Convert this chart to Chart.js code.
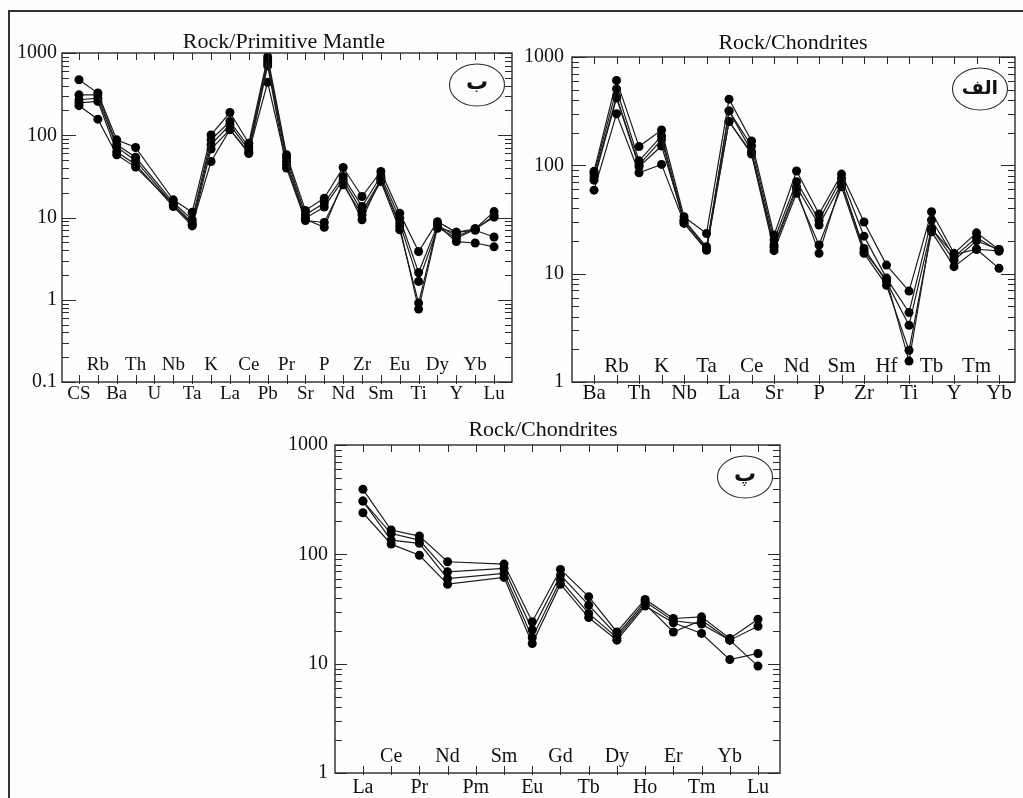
<!DOCTYPE html>
<html>
<head>
<meta charset="utf-8">
<script src="https://cdn.jsdelivr.net/npm/chart.js@4/dist/chart.umd.min.js"></script>
<style>
  html, body { margin: 0; padding: 0; background: #ffffff; }
  #page { position: relative; width: 1023px; height: 798px; overflow: hidden; background: #fefefe; }
  #frame { position: absolute; left: 8px; top: 10px; right: -10px; bottom: -10px; border-left: 2px solid #333; border-top: 2px solid #333; }
  canvas { position: absolute; }
</style>
</head>
<body>
<div id="page">
  <div id="frame"></div>
  <canvas id="c1" width="520" height="410" style="left:0px;top:0px"></canvas>
  <canvas id="c2" width="503" height="410" style="left:520px;top:0px"></canvas>
  <canvas id="c3" width="520" height="398" style="left:280px;top:400px"></canvas>
</div>
<script>
// ---------- Panel ب : Rock/Primitive Mantle ----------
const pmCats = ['CS','Rb','Ba','Th','U','Nb','Ta','K','La','Ce','Pb','Pr','Sr','P','Nd','Zr','Sm','Eu','Ti','Dy','Y','Yb','Lu'];
const pm1 = [473, 326, 88, 71, null, 16.4, 11.6, 101, 189, 80, 900, 58, 12.2, 17.2, 40.5, 18, 36.3, 11.3, 3.86, 8.9, 6.6, 7.3, 11.8];
const pm2 = [310, 310, 77, 54, null, 15.2, 9.4, 88, 147, 72, 820, 53, 10.8, 15, 31.5, 13.6, 32, 9.8, 2.14, 8.1, 5.9, 7.3, 10.1];
const pm3 = [270, 282, 72, 49, null, 14.3, 8.7, 77, 134, 66, 760, 48, 9.8, 13.4, 28.8, 11.8, 28.8, 8.6, 1.67, 7.4, 6.6, 7.0, 5.8];
const pm4 = [248, 258, 63, 44, null, 13.6, 7.9, 68, 117, 60, 700, 40, 9.2, 8.7, 25, 10.8, 27.4, 7.1, 0.91, 8.1, 5.1, 4.9, 4.4];
const pm5 = [229, 157, 58, 41, null, 14.5, 8.2, 48, 117, 62, 440, 44, 9.5, 7.6, 27, 9.4, 30, 7.8, 0.77, 7.6, 5.6, 7.2, 10.5];
const pmYTicks = [0.1, 1, 10, 100, 1000];
const pmYLabels = ['0.1', '1', '10', '100', '1000'];

// ---------- Panel الف : Rock/Chondrites (spider) ----------
const chCats = ['Ba','Rb','Th','K','Nb','Ta','La','Ce','Sr','Nd','P','Sm','Zr','Hf','Ti','Tb','Y','Tm','Yb'];
const ch1 = [88, 608, 149, 212, 33.5, 23.5, 408, 168, 22.7, 88.7, 35.5, 83, 30, 12, 6.9, 37.3, 15.4, 23.8, 16.7];
const ch2 = [84, 506, 110, 187, 31.2, 17.7, 318, 151, 20.4, 70.7, 31.2, 76, 22.2, 9.1, 4.37, 31.3, 14.3, 21.6, 16.2];
const ch3 = [78, 432, 101, 172, 29.1, 16.5, 318, 134, 18.4, 63.6, 28.1, 68, 17.1, 8.4, 3.34, 26.2, 13.3, 20.1, 16.7];
const ch4 = [73, 418, 97, 151, 31, 17, 254, 127, 16.3, 55.2, 18.4, 63.5, 15.4, 7.8, 1.96, 24.4, 11.6, 16.8, 16.2];
const ch5 = [59, 299, 85.5, 102, 29.5, 16.5, 254, 130, 17.5, 60, 15.4, 70, 16, 8.8, 1.56, 26, 15, 16.8, 11.2];
const chYTicks = [1, 10, 100, 1000];
const chYLabels = ['1', '10', '100', '1000'];

// ---------- Panel پ : Rock/Chondrites (REE) ----------
const reeCats = ['La','Ce','Pr','Nd','Pm','Sm','Eu','Gd','Tb','Dy','Ho','Er','Tm','Yb','Lu'];
const ree1 = [393, 167, 147, 85.5, null, 81.4, 24.2, 72.8, 41, 19.5, 38.7, 25.9, 26.8, 17, 25.5];
const ree2 = [307, 155, 135, 69.2, null, 74.3, 20.3, 64.6, 34.3, 18.2, 36.8, 24.7, 23, 16.4, 22];
const ree3 = [307, 135, 126, 60, null, 66.9, 17.3, 58.1, 28.8, 17.3, 35, 19.5, 25, 16.4, 9.5];
const ree4 = [240, 124, 98, 53.3, null, 61.5, 15.3, 53.3, 26.4, 16.4, 33.6, 23.7, 18.9, 10.9, 12.4];
const reeYTicks = [1, 10, 100, 1000];
const reeYLabels = ['1', '10', '100', '1000'];

const SERIF = '"Liberation Serif", "Times New Roman", serif';

const decorPlugin = {
  id: 'decor',
  afterDraw(chart, args, o) {
    const ctx = chart.ctx, a = chart.chartArea;
    const xs = chart.scales.x, ys = chart.scales.y;
    ctx.save();
    ctx.strokeStyle = '#2a2a2a';
    const seg = (x1, y1, x2, y2) => { ctx.beginPath(); ctx.moveTo(x1, y1); ctx.lineTo(x2, y2); ctx.stroke(); };
    ctx.lineWidth = 1;
    o.cats.forEach((c, i) => {
      const px = Math.round(xs.getPixelForValue(i)) + 0.5;
      seg(px, a.bottom + 2, px, a.bottom - 7);
      seg(px, a.top, px, a.top + 7);
    });
    const lo = Math.round(Math.log10(ys.min)), hi = Math.round(Math.log10(ys.max));
    for (let d = lo; d <= hi; d++) {
      for (let m = 1; m < 10; m++) {
        if (d === hi && m > 1) break;
        const v = m * Math.pow(10, d);
        const py = Math.round(ys.getPixelForValue(v)) + 0.5;
        const L = m === 1 ? o.majorLen : 7;
        seg(a.left, py, a.left + L, py);
        seg(a.right, py, a.right - L, py);
      }
    }
    ctx.lineWidth = 1.4;
    ctx.strokeRect(a.left, a.top, a.right - a.left, a.bottom - a.top);
    ctx.fillStyle = '#111';
    ctx.font = o.labelFont;
    ctx.textAlign = 'center';
    ctx.textBaseline = 'alphabetic';
    o.cats.forEach((c, i) => {
      const px = xs.getPixelForValue(i);
      const py = i % 2 === 0 ? a.bottom + o.below : a.bottom - o.inside;
      ctx.fillText(c, px, py);
    });
    ctx.font = '22px ' + SERIF;
    ctx.fillText(o.title, o.titleX, o.titleY);
    const bx = a.right - 35, by = a.top + 32;
    ctx.lineWidth = 1.1;
    ctx.beginPath();
    ctx.ellipse(bx, by, 27.5, 21, 0, 0, Math.PI * 2);
    ctx.stroke();
    ctx.font = o.badgeFont;
    ctx.textBaseline = 'middle';
    ctx.fillText(o.badge, bx, by + o.badgeDy);
    ctx.restore();
  }
};

function makeChart(id, cats, series, yTicks, yLabels, cfg) {
  const datasets = series.map(s => ({
    data: s.map((v, i) => ({ x: i, y: v })),
    borderColor: '#1c1c1c',
    borderWidth: 1.2,
    pointRadius: 4.5,
    pointBackgroundColor: '#000',
    pointBorderColor: '#000',
    pointBorderWidth: 0,
    spanGaps: true,
    tension: 0,
    fill: false
  }));
  return new Chart(document.getElementById(id), {
    type: 'line',
    data: { datasets },
    options: {
      responsive: false,
      animation: false,
      devicePixelRatio: 1,
      events: [],
      layout: { padding: { left: 0, top: cfg.padTop, right: cfg.padRight, bottom: 0 } },
      scales: {
        x: {
          type: 'linear',
          min: cfg.xMin, max: cfg.xMax,
          grid: { display: false, drawTicks: false },
          border: { display: false },
          ticks: { display: false },
          afterFit: s => { s.height = cfg.xH; }
        },
        y: {
          type: 'logarithmic',
          min: yTicks[0], max: yTicks[yTicks.length - 1],
          grid: { display: false, drawTicks: false },
          border: { display: false },
          afterBuildTicks: s => { s.ticks = yTicks.map(v => ({ value: v })); },
          ticks: {
            autoSkip: false,
            padding: cfg.yPad,
            color: '#111',
            font: { family: SERIF, size: 20 },
            callback: (v, i) => yLabels[i]
          },
          afterFit: s => { s.width = cfg.yW; }
        }
      },
      plugins: {
        legend: { display: false },
        tooltip: { enabled: false },
        decor: {
          cats, title: cfg.title, titleX: cfg.titleX, titleY: cfg.titleY,
          labelFont: cfg.labelSize + 'px ' + SERIF,
          inside: cfg.inside, below: cfg.below, majorLen: cfg.majorLen,
          badge: cfg.badge, badgeDy: cfg.badgeDy, badgeFont: cfg.badgeFont
        }
      }
    },
    plugins: [decorPlugin]
  });
}

makeChart('c1', pmCats, [pm1, pm2, pm3, pm4, pm5], pmYTicks, pmYLabels, {
  padTop: 53, padRight: 8, xH: 28, yW: 62, yPad: 5,
  xMin: -0.9, xMax: 22.95,
  title: 'Rock/Primitive Mantle', titleX: 284, titleY: 48,
  labelSize: 19, inside: 12, below: 17, majorLen: 14,
  badge: 'ب', badgeDy: -2, badgeFont: 'bold 22px "DejaVu Sans", sans-serif'
});
makeChart('c2', chCats, [ch1, ch2, ch3, ch4, ch5], chYTicks, chYLabels, {
  padTop: 57, padRight: 8, xH: 28, yW: 52, yPad: 8,
  xMin: -0.98, xMax: 18.71,
  title: 'Rock/Chondrites', titleX: 273, titleY: 49,
  labelSize: 21, inside: 10, below: 17, majorLen: 14,
  badge: 'الف', badgeDy: 0, badgeFont: 'bold 19px "DejaVu Sans", sans-serif'
});
makeChart('c3', reeCats, [ree1, ree2, ree3, ree4], reeYTicks, reeYLabels, {
  padTop: 45, padRight: 20, xH: 25, yW: 55, yPad: 7,
  xMin: -0.99, xMax: 14.78,
  title: 'Rock/Chondrites', titleX: 263, titleY: 36,
  labelSize: 20, inside: 11, below: 20, majorLen: 12,
  badge: 'پ', badgeDy: -2, badgeFont: 'bold 22px "DejaVu Sans", sans-serif'
});
</script>
</body>
</html>
